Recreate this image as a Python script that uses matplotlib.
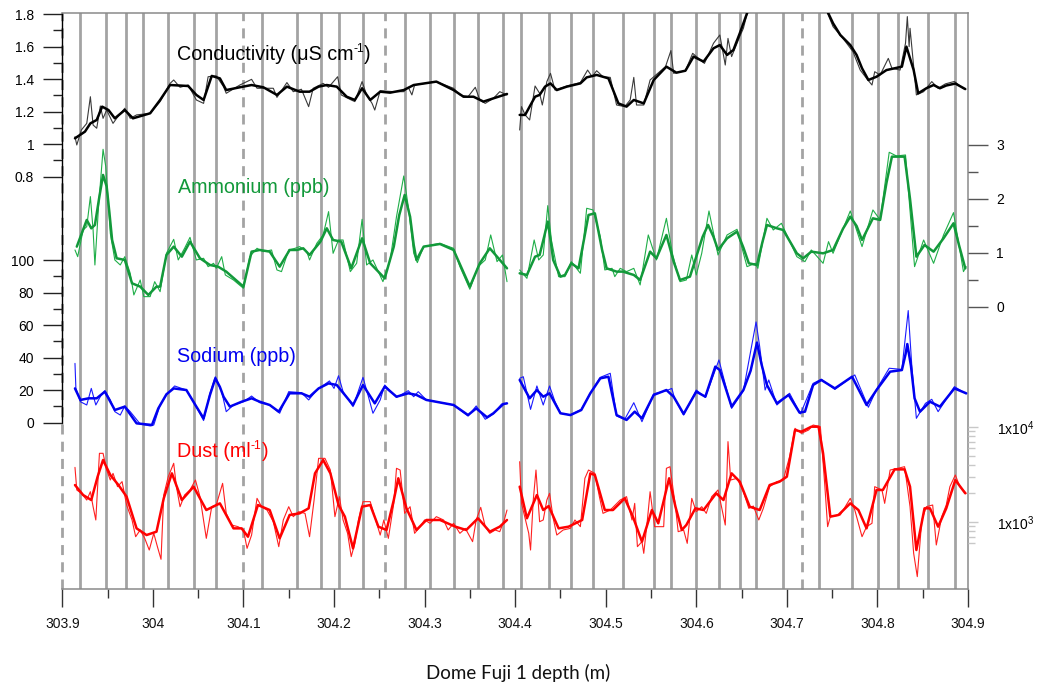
import numpy as np
import matplotlib
matplotlib.use('Agg')
import matplotlib.pyplot as plt
from matplotlib.ticker import NullFormatter

plt.rcParams['font.family'] = ['Liberation Sans', 'DejaVu Sans']
plt.rcParams['mathtext.default'] = 'regular'

nan = float('nan')

# ---------------- data (depth m, value) ----------------
xtick_vals = [303.9, 304.0, 304.1, 304.2, 304.3, 304.4, 304.5, 304.6, 304.7, 304.8, 304.9]
xtick_labels = ['303.9', '304', '304.1', '304.2', '304.3', '304.4', '304.5', '304.6', '304.7', '304.8', '304.9']

layers_solid = [303.920, 303.948, 303.970, 303.989, 304.017, 304.045, 304.070, 304.121, 304.159,
                304.186, 304.206, 304.232, 304.278, 304.306, 304.332, 304.359, 304.387, 304.407,
                304.437, 304.462, 304.486, 304.519, 304.553, 304.572, 304.600, 304.625, 304.648,
                304.666, 304.696, 304.735, 304.772, 304.801, 304.823, 304.856, 304.886]
layers_dashed = [303.900, 304.099, 304.256, 304.717]

cond_smooth = [
    (303.914, 1.035), (303.925, 1.076), (303.931, 1.127), (303.938, 1.148), (303.944, 1.230),
    (303.951, 1.209), (303.958, 1.158), (303.969, 1.209), (303.978, 1.158), (303.997, 1.189),
    (304.008, 1.271), (304.019, 1.363), (304.039, 1.357), (304.048, 1.302), (304.056, 1.271),
    (304.065, 1.419), (304.074, 1.404), (304.081, 1.332), (304.096, 1.349), (304.109, 1.363),
    (304.122, 1.349), (304.137, 1.302), (304.148, 1.353), (304.162, 1.322), (304.173, 1.322),
    (304.183, 1.353), (304.192, 1.363), (304.203, 1.353), (304.214, 1.291), (304.223, 1.271),
    (304.231, 1.343), (304.240, 1.271), (304.251, 1.322), (304.262, 1.316), (304.277, 1.332),
    (304.288, 1.363), (304.313, 1.384), (304.332, 1.332), (304.343, 1.291), (304.354, 1.291),
    (304.365, 1.261), (304.376, 1.281), (304.391, 1.308),
    (nan, nan),
    (304.405, 1.179), (304.411, 1.179), (304.416, 1.230), (304.422, 1.291), (304.427, 1.302),
    (304.433, 1.353), (304.439, 1.373), (304.446, 1.332), (304.457, 1.353), (304.472, 1.373),
    (304.479, 1.410), (304.490, 1.425), (304.503, 1.404), (304.514, 1.250), (304.523, 1.230),
    (304.531, 1.271), (304.542, 1.250), (304.553, 1.394), (304.567, 1.476), (304.578, 1.439),
    (304.588, 1.451), (304.597, 1.538), (304.608, 1.507), (304.619, 1.589), (304.626, 1.609),
    (304.634, 1.548), (304.641, 1.579), (304.648, 1.681), (304.656, 1.804), (304.665, 1.95),
    (304.690, 2.10), (304.720, 2.10), (304.740, 1.90), (304.744, 1.825), (304.751, 1.743),
    (304.759, 1.671), (304.770, 1.609), (304.777, 1.548), (304.783, 1.466), (304.790, 1.394),
    (304.799, 1.414), (304.810, 1.455), (304.819, 1.466), (304.827, 1.476), (304.832, 1.599),
    (304.840, 1.455), (304.845, 1.312), (304.854, 1.343), (304.862, 1.363), (304.869, 1.343),
    (304.876, 1.360), (304.886, 1.372), (304.897, 1.338)]

cond_raw = [
    (303.914, 1.045), (303.916, 0.994), (303.921, 1.086), (303.927, 1.127), (303.931, 1.291),
    (303.934, 1.117), (303.938, 1.097), (303.942, 1.234), (303.945, 1.158), (303.949, 1.209),
    (303.956, 1.127), (303.960, 1.158), (303.969, 1.220), (303.975, 1.158), (303.982, 1.179),
    (303.997, 1.189), (304.008, 1.261), (304.019, 1.373), (304.023, 1.394), (304.030, 1.349),
    (304.039, 1.363), (304.048, 1.271), (304.056, 1.250), (304.061, 1.414), (304.070, 1.419),
    (304.078, 1.353), (304.081, 1.312), (304.096, 1.363), (304.109, 1.398), (304.115, 1.343),
    (304.133, 1.343), (304.137, 1.287), (304.148, 1.378), (304.155, 1.322), (304.164, 1.337),
    (304.172, 1.230), (304.177, 1.343), (304.188, 1.373), (304.194, 1.349), (304.204, 1.414),
    (304.208, 1.302), (304.219, 1.271), (304.223, 1.261), (304.231, 1.384), (304.236, 1.302),
    (304.242, 1.250), (304.245, 1.209), (304.251, 1.328), (304.266, 1.322), (304.277, 1.322),
    (304.282, 1.349), (304.286, 1.302), (304.289, 1.363), (304.313, 1.384), (304.332, 1.343),
    (304.339, 1.302), (304.348, 1.291), (304.356, 1.349), (304.361, 1.271), (304.367, 1.250),
    (304.376, 1.281), (304.383, 1.322), (304.391, 1.302),
    (nan, nan),
    (304.405, 1.086), (304.407, 1.230), (304.411, 1.179), (304.416, 1.148), (304.422, 1.357),
    (304.427, 1.312), (304.430, 1.240), (304.435, 1.384), (304.439, 1.435), (304.444, 1.332),
    (304.457, 1.357), (304.472, 1.378), (304.480, 1.455), (304.485, 1.414), (304.490, 1.451),
    (304.497, 1.414), (304.505, 1.410), (304.512, 1.240), (304.521, 1.230), (304.527, 1.271),
    (304.531, 1.410), (304.534, 1.240), (304.542, 1.240), (304.549, 1.394), (304.566, 1.476),
    (304.572, 1.575), (304.575, 1.435), (304.588, 1.451), (304.596, 1.558), (304.609, 1.496),
    (304.619, 1.620), (304.626, 1.671), (304.632, 1.486), (304.635, 1.650), (304.639, 1.538),
    (304.648, 1.661), (304.652, 1.712), (304.658, 1.845), (304.663, 1.95), (304.690, 2.10),
    (304.720, 2.10), (304.738, 1.95), (304.742, 1.845), (304.751, 1.722), (304.762, 1.650),
    (304.773, 1.568), (304.781, 1.455), (304.788, 1.404), (304.794, 1.363), (304.797, 1.445),
    (304.803, 1.425), (304.812, 1.527), (304.816, 1.466), (304.825, 1.455), (304.831, 1.620),
    (304.833, 1.784), (304.835, 1.599), (304.836, 1.712), (304.840, 1.476), (304.843, 1.302),
    (304.851, 1.322), (304.860, 1.384), (304.867, 1.343), (304.875, 1.370), (304.885, 1.385),
    (304.895, 1.340)]

nh4_smooth = [
    (303.916, 1.118), (303.927, 1.612), (303.932, 1.457), (303.936, 1.519), (303.941, 2.050),
    (303.945, 2.445), (303.949, 2.229), (303.952, 1.750), (303.955, 1.241), (303.960, 0.902),
    (303.969, 0.871), (303.977, 0.439), (303.986, 0.377), (303.995, 0.223), (304.004, 0.377),
    (304.008, 0.377), (304.015, 0.963), (304.023, 1.118), (304.032, 0.932), (304.041, 1.210),
    (304.052, 0.902), (304.063, 0.778), (304.072, 0.747), (304.081, 0.655), (304.100, 0.377),
    (304.109, 1.025), (304.118, 1.056), (304.129, 1.025), (304.140, 0.747), (304.151, 1.056),
    (304.159, 1.056), (304.166, 1.087), (304.173, 0.963), (304.185, 1.210), (304.192, 1.457),
    (304.199, 1.241), (304.208, 1.210), (304.219, 0.716), (304.231, 1.272), (304.240, 0.809),
    (304.256, 0.531), (304.266, 1.118), (304.272, 1.700), (304.278, 2.074), (304.284, 1.673),
    (304.288, 1.150), (304.291, 0.871), (304.299, 1.118), (304.317, 1.167), (304.332, 1.056),
    (304.350, 0.377), (304.361, 0.809), (304.372, 1.087), (304.380, 0.932), (304.391, 0.716),
    (nan, nan),
    (304.405, 0.624), (304.413, 0.593), (304.422, 0.932), (304.427, 0.963), (304.432, 1.300),
    (304.436, 1.581), (304.439, 1.250), (304.442, 0.871), (304.450, 0.562), (304.455, 0.593),
    (304.462, 0.809), (304.470, 0.716), (304.476, 1.250), (304.481, 1.704), (304.488, 1.735),
    (304.492, 1.400), (304.496, 1.056), (304.501, 0.716), (304.512, 0.655), (304.519, 0.655),
    (304.531, 0.593), (304.538, 0.500), (304.549, 1.025), (304.556, 0.902), (304.567, 1.334),
    (304.575, 0.840), (304.582, 0.500), (304.593, 0.562), (304.600, 0.932), (304.607, 1.300),
    (304.613, 1.519), (304.619, 1.300), (304.624, 1.056), (304.634, 1.272), (304.645, 1.396),
    (304.652, 1.100), (304.658, 0.809), (304.667, 0.778), (304.673, 1.200), (304.678, 1.519),
    (304.689, 1.457), (304.696, 1.426), (304.711, 0.994), (304.718, 0.902), (304.727, 1.025),
    (304.740, 0.994), (304.751, 1.056), (304.762, 1.450), (304.770, 1.673), (304.777, 1.500),
    (304.783, 1.241), (304.795, 1.642), (304.803, 1.612), (304.810, 2.300), (304.816, 2.784),
    (304.830, 2.784), (304.836, 2.000), (304.843, 0.932), (304.852, 1.148), (304.862, 1.025),
    (304.873, 1.272), (304.884, 1.550), (304.890, 1.150), (304.897, 0.716)]

nh4_raw = [
    (303.914, 1.056), (303.917, 0.932), (303.923, 1.426), (303.927, 1.488), (303.931, 2.044),
    (303.934, 1.426), (303.936, 0.778), (303.940, 1.858), (303.945, 2.920), (303.948, 2.599),
    (303.953, 1.365), (303.958, 0.871), (303.964, 0.778), (303.969, 0.932), (303.975, 0.624),
    (303.979, 0.223), (303.986, 0.500), (303.990, 0.192), (303.997, 0.192), (304.002, 0.469),
    (304.008, 0.284), (304.015, 0.994), (304.023, 1.253), (304.028, 0.871), (304.035, 1.087),
    (304.041, 1.290), (304.048, 0.871), (304.056, 0.902), (304.061, 0.747), (304.067, 0.809),
    (304.070, 0.716), (304.076, 0.932), (304.080, 0.593), (304.089, 0.500), (304.100, 0.346),
    (304.107, 0.932), (304.115, 1.087), (304.122, 1.025), (304.131, 1.056), (304.137, 0.686),
    (304.142, 0.655), (304.150, 1.056), (304.157, 1.087), (304.162, 1.118), (304.170, 1.025),
    (304.173, 0.871), (304.181, 1.179), (304.188, 1.334), (304.194, 1.766), (304.199, 0.994),
    (304.205, 1.241), (304.210, 1.241), (304.218, 0.655), (304.225, 0.809), (304.231, 1.624),
    (304.236, 0.778), (304.243, 0.871), (304.254, 0.469), (304.262, 0.871), (304.269, 1.673),
    (304.277, 2.426), (304.282, 1.858), (304.288, 0.994), (304.292, 0.821), (304.299, 1.118),
    (304.317, 1.179), (304.332, 1.087), (304.339, 0.747), (304.350, 0.328), (304.359, 0.747),
    (304.367, 0.871), (304.373, 1.334), (304.380, 0.840), (304.386, 0.963), (304.391, 0.469),
    (nan, nan),
    (304.405, 0.686), (304.413, 0.531), (304.421, 1.241), (304.426, 0.871), (304.431, 0.963),
    (304.436, 1.877), (304.440, 1.241), (304.448, 0.562), (304.455, 0.562), (304.462, 0.840),
    (304.472, 0.624), (304.479, 1.828), (304.486, 1.797), (304.494, 1.303), (304.499, 0.686),
    (304.507, 0.716), (304.510, 0.562), (304.516, 0.716), (304.523, 0.655), (304.531, 0.716),
    (304.538, 0.408), (304.547, 1.334), (304.556, 0.871), (304.567, 1.642), (304.574, 0.963),
    (304.582, 0.469), (304.589, 0.500), (304.595, 0.963), (304.600, 0.593), (304.606, 0.994),
    (304.614, 1.778), (304.624, 0.963), (304.634, 1.334), (304.645, 1.439), (304.656, 0.747),
    (304.665, 0.809), (304.668, 0.716), (304.678, 1.642), (304.685, 1.426), (304.694, 1.550),
    (304.711, 0.932), (304.720, 0.840), (304.727, 1.056), (304.740, 0.809), (304.746, 1.210),
    (304.751, 0.994), (304.770, 1.778), (304.783, 1.118), (304.795, 1.797), (304.803, 1.612),
    (304.813, 2.865), (304.821, 2.797), (304.831, 2.815), (304.841, 0.747), (304.851, 1.241),
    (304.862, 0.809), (304.873, 1.334), (304.884, 1.747), (304.895, 0.655), (304.898, 0.747)]

na_smooth = [
    (303.914, 21.1), (303.920, 14.0), (303.929, 15.0), (303.938, 15.0), (303.947, 19.1),
    (303.958, 7.8), (303.969, 9.9), (303.982, -0.4), (303.999, -1.4), (304.006, 8.8),
    (304.015, 17.5), (304.023, 21.1), (304.037, 20.1), (304.048, 9.9), (304.056, 2.7),
    (304.063, 17.0), (304.069, 27.3), (304.074, 22.0), (304.078, 16.0), (304.085, 9.9),
    (304.098, 12.9), (304.109, 15.0), (304.118, 12.9), (304.129, 10.9), (304.139, 6.8),
    (304.151, 18.1), (304.164, 18.1), (304.173, 16.0), (304.183, 21.1), (304.194, 24.2),
    (304.203, 23.2), (304.221, 10.9), (304.232, 23.2), (304.245, 11.9), (304.256, 22.2),
    (304.269, 16.0), (304.282, 18.1), (304.291, 17.1), (304.302, 14.0), (304.332, 10.9),
    (304.348, 4.7), (304.357, 8.8), (304.369, 3.3), (304.376, 5.8), (304.387, 11.5),
    (304.391, 11.9),
    (nan, nan),
    (304.405, 26.3), (304.416, 15.0), (304.424, 20.1), (304.431, 16.0), (304.438, 18.1),
    (304.450, 5.8), (304.461, 4.7), (304.473, 7.8), (304.483, 18.1), (304.494, 27.3),
    (304.503, 28.3), (304.512, 4.7), (304.523, 1.7), (304.532, 6.8), (304.540, 2.7),
    (304.553, 17.1), (304.567, 20.1), (304.575, 16.0), (304.586, 5.4), (304.600, 19.1),
    (304.610, 16.0), (304.621, 34.5), (304.626, 32.4), (304.639, 9.9), (304.652, 20.1),
    (304.660, 32.0), (304.667, 49.3), (304.672, 36.0), (304.678, 23.2), (304.689, 11.9),
    (304.702, 17.1), (304.714, 6.2), (304.720, 6.8), (304.729, 23.2), (304.738, 26.3),
    (304.753, 21.1), (304.772, 28.3), (304.788, 10.9), (304.799, 20.1), (304.814, 31.4),
    (304.827, 32.4), (304.831, 42.0), (304.833, 48.4), (304.837, 35.0), (304.841, 15.0),
    (304.847, 6.8), (304.858, 12.9), (304.869, 9.9), (304.885, 21.1), (304.898, 18.1)]

na_raw = [
    (303.914, 36.5), (303.915, 21.1), (303.920, 12.9), (303.927, 10.9), (303.932, 21.1),
    (303.937, 10.9), (303.943, 17.1), (303.947, 19.7), (303.953, 14.0), (303.958, 6.8),
    (303.964, 4.7), (303.969, 10.3), (303.975, 6.8), (303.986, -0.8), (303.997, -2.0),
    (304.001, -1.4), (304.008, 10.9), (304.015, 17.1), (304.024, 22.6), (304.037, 20.1),
    (304.046, 11.9), (304.056, 1.3), (304.063, 18.1), (304.069, 28.3), (304.076, 19.1),
    (304.081, 6.8), (304.089, 10.9), (304.100, 12.9), (304.109, 16.4), (304.118, 12.3),
    (304.129, 10.9), (304.140, 5.8), (304.150, 19.1), (304.164, 18.5), (304.172, 14.0),
    (304.181, 20.1), (304.195, 25.7), (304.200, 21.1), (304.205, 28.9), (304.210, 19.1),
    (304.221, 9.9), (304.232, 27.9), (304.238, 16.0), (304.243, 5.8), (304.251, 14.0),
    (304.256, 23.2), (304.269, 15.6), (304.282, 19.7), (304.288, 16.0), (304.293, 19.1),
    (304.302, 14.0), (304.332, 10.9), (304.348, 4.1), (304.357, 10.3), (304.367, 2.1),
    (304.376, 5.4), (304.385, 11.5), (304.391, 11.9),
    (nan, nan),
    (304.405, 27.3), (304.409, 28.3), (304.417, 8.2), (304.424, 22.6), (304.431, 10.9),
    (304.438, 22.6), (304.444, 12.9), (304.450, 5.8), (304.461, 4.7), (304.473, 8.2),
    (304.483, 18.1), (304.494, 27.9), (304.505, 30.4), (304.512, 4.1), (304.521, 2.1),
    (304.531, 12.3), (304.540, 0.6), (304.553, 17.7), (304.567, 19.7), (304.573, 21.1),
    (304.576, 15.0), (304.586, 4.7), (304.600, 20.1), (304.610, 15.6), (304.625, 38.6),
    (304.639, 8.8), (304.652, 19.7), (304.666, 62.0), (304.670, 46.8), (304.676, 20.1),
    (304.680, 26.3), (304.689, 10.9), (304.703, 18.1), (304.715, 5.4), (304.729, 24.2),
    (304.738, 26.7), (304.753, 20.5), (304.775, 29.4), (304.790, 9.5), (304.799, 20.5),
    (304.813, 33.5), (304.827, 32.8), (304.834, 69.0), (304.838, 34.5), (304.843, 2.7),
    (304.853, 11.9), (304.860, 14.4), (304.867, 6.8), (304.885, 22.2), (304.898, 17.7)]

dust_smooth = [
    (303.914, 2449), (303.923, 1923), (303.932, 1703), (303.939, 3000), (303.945, 4498),
    (303.953, 3126), (303.962, 2449), (303.971, 1849), (303.982, 857), (303.993, 729),
    (304.004, 791), (304.012, 1774), (304.021, 3251), (304.032, 1703), (304.045, 2355),
    (304.059, 1337), (304.074, 1571), (304.089, 857), (304.098, 857), (304.105, 700),
    (304.116, 1510), (304.129, 1337), (304.140, 673), (304.151, 1186), (304.162, 1233),
    (304.172, 1393), (304.179, 3251), (304.188, 4498), (304.196, 3251), (304.205, 1510),
    (304.212, 1138), (304.221, 528), (304.231, 1449), (304.240, 1510), (304.249, 893),
    (304.258, 824), (304.266, 1703), (304.271, 2884), (304.280, 1393), (304.291, 824),
    (304.302, 1050), (304.317, 1050), (304.334, 893), (304.346, 824), (304.359, 1094),
    (304.372, 791), (304.383, 893), (304.391, 1050),
    (nan, nan),
    (304.405, 2355), (304.413, 1094), (304.424, 1923), (304.431, 1337), (304.437, 1472),
    (304.448, 857), (304.459, 893), (304.474, 1050), (304.483, 3251), (304.488, 3126),
    (304.499, 1337), (304.508, 1337), (304.521, 1774), (304.530, 1138), (304.540, 621),
    (304.551, 1337), (304.558, 969), (304.570, 2884), (304.577, 1449), (304.584, 824),
    (304.589, 929), (304.599, 1393), (304.608, 1337), (304.622, 2004), (304.630, 1703),
    (304.639, 3251), (304.648, 2661), (304.659, 1449), (304.670, 1337), (304.681, 2449),
    (304.692, 2661), (304.700, 3000), (304.709, 9290), (304.716, 8930), (304.727, 10070),
    (304.735, 10070), (304.740, 5284), (304.748, 1138), (304.757, 1186), (304.770, 1571),
    (304.779, 1337), (304.788, 857), (304.799, 2173), (304.806, 2173), (304.819, 3581),
    (304.830, 3581), (304.836, 2355), (304.843, 507), (304.852, 1393), (304.858, 1393),
    (304.867, 893), (304.876, 1393), (304.886, 2767), (304.897, 2004)]

dust_raw = [
    (303.914, 3758), (303.916, 2173), (303.921, 2004), (303.927, 1703), (303.931, 2084),
    (303.934, 1449), (303.937, 1050), (303.941, 5284), (303.945, 5284), (303.949, 3524),
    (303.953, 2767), (303.956, 3251), (303.961, 2355), (303.966, 2661), (303.971, 1510),
    (303.977, 1050), (303.981, 700), (303.986, 824), (303.991, 673), (303.996, 507),
    (304.001, 760), (304.005, 550), (304.009, 405), (304.012, 1923), (304.017, 3000),
    (304.023, 4150), (304.026, 2355), (304.030, 1449), (304.035, 1923), (304.041, 2173),
    (304.047, 2767), (304.052, 1849), (304.059, 673), (304.065, 1449), (304.070, 1510),
    (304.077, 2553), (304.081, 1233), (304.087, 929), (304.094, 893), (304.100, 824),
    (304.104, 528), (304.109, 729), (304.115, 1774), (304.120, 1449), (304.126, 1337),
    (304.133, 1007), (304.139, 550), (304.144, 1050), (304.150, 1449), (304.155, 1138),
    (304.161, 1285), (304.168, 1233), (304.173, 700), (304.178, 1703), (304.183, 4677),
    (304.190, 4677), (304.196, 3524), (304.201, 1138), (304.206, 1849), (304.210, 1050),
    (304.215, 760), (304.219, 432), (304.223, 596), (304.227, 1050), (304.232, 1637),
    (304.240, 1637), (304.245, 1138), (304.251, 729), (304.255, 1050), (304.260, 673),
    (304.266, 1571), (304.269, 3673), (304.273, 3524), (304.278, 1233), (304.284, 1449),
    (304.289, 760), (304.295, 893), (304.300, 1050), (304.306, 969), (304.313, 1138),
    (304.321, 1050), (304.326, 824), (304.332, 969), (304.339, 760), (304.345, 857),
    (304.353, 621), (304.357, 1050), (304.362, 1426), (304.367, 893), (304.372, 760),
    (304.378, 824), (304.383, 791), (304.388, 1050), (304.391, 1337),
    (nan, nan),
    (304.405, 4315), (304.407, 1571), (304.415, 760), (304.417, 507), (304.420, 1703),
    (304.423, 3524), (304.427, 1007), (304.431, 1050), (304.435, 1703), (304.438, 2004),
    (304.442, 1094), (304.446, 729), (304.453, 824), (304.461, 857), (304.466, 1050),
    (304.472, 893), (304.477, 2884), (304.481, 3524), (304.488, 3251), (304.493, 1849),
    (304.497, 1233), (304.505, 1337), (304.516, 1703), (304.523, 1849), (304.529, 1050),
    (304.532, 1571), (304.535, 550), (304.540, 621), (304.542, 468), (304.546, 1050),
    (304.549, 2084), (304.554, 893), (304.560, 893), (304.564, 893), (304.567, 3673),
    (304.571, 3820), (304.577, 1449), (304.580, 791), (304.586, 824), (304.590, 596),
    (304.595, 1774), (304.600, 1285), (304.606, 1449), (304.611, 1233), (304.617, 1849),
    (304.624, 2173), (304.632, 929), (304.635, 7015), (304.638, 2767), (304.645, 2884),
    (304.652, 2084), (304.658, 1393), (304.663, 1472), (304.669, 1050), (304.674, 1393),
    (304.681, 2355), (304.689, 2661), (304.696, 2767), (304.703, 4875), (304.709, 9683),
    (304.716, 8573), (304.724, 9290), (304.729, 10495), (304.737, 10070), (304.742, 2355),
    (304.745, 893), (304.748, 1138), (304.759, 1186), (304.770, 1774), (304.775, 1337),
    (304.783, 700), (304.788, 893), (304.794, 969), (304.797, 2355), (304.805, 2173),
    (304.808, 1571), (304.814, 3524), (304.830, 3820), (304.836, 1449), (304.840, 468),
    (304.844, 266), (304.849, 1050), (304.854, 1449), (304.861, 1510), (304.865, 573),
    (304.871, 1138), (304.876, 1510), (304.880, 2355), (304.886, 3126), (304.891, 2355),
    (304.898, 2004)]

cond_ticks = [0.8, 1.0, 1.2, 1.4, 1.6, 1.8]
cond_ticklabels = ['0.8', '1', '1.2', '1.4', '1.6', '1.8']
na_ticks = [0, 20, 40, 60, 80, 100]
nh4_ticks = [0, 1, 2, 3]
dust_ticks = [1e3, 1e4]
dust_ticklabels = ['1x10$^{3}$', '1x10$^{4}$']


def unzip(pairs):
    return (np.array([p[0] for p in pairs], float),
            np.array([p[1] for p in pairs], float))


W, H = 1037, 686
fig = plt.figure(figsize=(W / 100, H / 100), dpi=100)
L, R, T, B = 62.3, 968.0, 13.0, 589.0
ax = fig.add_axes([L / W, 1 - B / H, (R - L) / W, (B - T) / H])
ax.set_xlim(303.9, 304.9)
ax.set_ylim(-1.7385, 1.8062)

line_grey = '#a3a3a3'
for d in layers_solid:
    ax.axvline(d, color=line_grey, lw=2.0, zorder=1)
for d in layers_dashed:
    ax.axvline(d, color=line_grey, lw=2.0, dashes=(3.6, 2.6), zorder=1, clip_on=False)

lw_thin, lw_thick = 0.8, 1.8
style = dict(solid_joinstyle='round', solid_capstyle='round')

d, v = unzip(cond_raw)
ax.plot(d, v, color='#3a3a3a', lw=lw_thin, zorder=3, **style)
d, v = unzip(cond_smooth)
ax.plot(d, v, color='black', lw=lw_thick, zorder=4, **style)

ax_na = ax.twinx()
ax_na.set_ylim(-102.34, 252.12)
d, v = unzip(na_raw)
ax_na.plot(d, v, color='#1a1aff', lw=lw_thin, **style)
d, v = unzip(na_smooth)
ax_na.plot(d, v, color='#0000f0', lw=lw_thick, **style)

green = '#12993a'
ax_nh = ax.twinx()
ax_nh.set_ylim(-5.222, 5.444)
d, v = unzip(nh4_raw)
ax_nh.plot(d, v, color='#1fae48', lw=lw_thin, **style)
d, v = unzip(nh4_smooth)
ax_nh.plot(d, v, color=green, lw=lw_thick, **style)

ax_du = ax.twinx()
ax_du.set_yscale('log')
ax_du.set_ylim(10 ** 2.2947, 10 ** 8.358)
d, v = unzip(dust_raw)
ax_du.plot(d, v, color='#ff2020', lw=lw_thin, **style)
d, v = unzip(dust_smooth)
ax_du.plot(d, v, color='#ff0000', lw=lw_thick, **style)

# spines
for a in (ax_na, ax_nh, ax_du):
    for s in a.spines.values():
        s.set_visible(False)
ax.spines['left'].set_color('black')
ax.spines['left'].set_linewidth(1.0)
ax.spines['left'].set_bounds(-0.715, 1.8062)
for k in ('right', 'top', 'bottom'):
    ax.spines[k].set_color('#8a8a8a')
    ax.spines[k].set_linewidth(1.1)

# x axis
ax.set_xticks(xtick_vals)
ax.set_xticklabels(xtick_labels)
ax.set_xticks(np.arange(303.95, 304.9, 0.1), minor=True)
ax.tick_params(axis='x', which='major', length=13, width=1.0, color='#333333',
               pad=7, labelsize=10, labelcolor='#111111')
ax.tick_params(axis='x', which='minor', length=6.5, width=1.0, color='#333333')

# left axes
ax.yaxis.set_ticks_position('left')
ax.set_yticks(cond_ticks)
ax.set_yticklabels(cond_ticklabels)
ax.set_yticks(np.arange(0.9, 1.75, 0.1), minor=True)
ax.yaxis.set_minor_formatter(NullFormatter())
ax.tick_params(axis='y', which='major', length=13.7, width=1.0, color='#222222',
               pad=6.5, labelsize=10)
ax.tick_params(axis='y', which='minor', length=6.5, width=1.0, color='#222222')

ax_na.yaxis.tick_left()
ax_na.set_yticks(na_ticks)
ax_na.set_yticks(np.arange(10, 100, 20), minor=True)
ax_na.yaxis.set_minor_formatter(NullFormatter())
ax_na.tick_params(axis='y', which='major', length=13.7, width=1.0, color='#222222',
                  pad=6.5, labelsize=10)
ax_na.tick_params(axis='y', which='minor', length=6.5, width=1.0, color='#222222')

# right axes
ax_nh.yaxis.tick_right()
ax_nh.set_yticks(nh4_ticks)
ax_nh.set_yticks([0.5, 1.5, 2.5], minor=True)
ax_nh.yaxis.set_minor_formatter(NullFormatter())
ax_nh.tick_params(axis='y', which='major', length=14.4, width=1.0, color='#555555',
                  pad=5.8, labelsize=10)
ax_nh.tick_params(axis='y', which='minor', length=7.2, width=1.0, color='#555555')

ax_du.yaxis.tick_right()
ax_du.set_yticks(dust_ticks)
ax_du.set_yticklabels(dust_ticklabels)
ax_du.set_yticks([600, 700, 800, 900, 2000, 3000, 4000, 5000, 6000, 7000, 8000, 9000], minor=True)
ax_du.yaxis.set_minor_formatter(NullFormatter())
ax_du.tick_params(axis='y', which='major', length=7.2, width=1.0, color='#c8c8c8',
                  pad=13.7, labelsize=10)
ax_du.tick_params(axis='y', which='minor', length=5.0, width=1.0, color='#c8c8c8')

# series labels (superscripts drawn as separate small texts with a plain hyphen)
fs = 14.2
renderer = fig.canvas.get_renderer()


def label_with_sup(x_px, base_px, main, sup, tail, color):
    t1 = fig.text(x_px / W, 1 - base_px / H, main, fontsize=fs, va='baseline', ha='left', color=color)
    bb = t1.get_window_extent(renderer)
    t2 = fig.text(bb.x1 / W, 1 - (base_px - 8) / H, sup, fontsize=fs * 0.62, va='baseline',
                  ha='left', color=color)
    bb2 = t2.get_window_extent(renderer)
    fig.text(bb2.x1 / W, 1 - base_px / H, tail, fontsize=fs, va='baseline', ha='left', color=color)


label_with_sup(177, 60, 'Conductivity (\u03bcS cm', '-1', ')', 'black')
fig.text(178 / W, 1 - 193 / H, 'Ammonium (ppb)', fontsize=fs, va='baseline', ha='left', color=green)
fig.text(177 / W, 1 - 361.5 / H, 'Sodium (ppb)', fontsize=fs, va='baseline', ha='left', color='#0000f0')
label_with_sup(177, 457, 'Dust (ml', '-1', ')', '#ff0000')

fig.text(518 / W, 1 - 673 / H, 'Dome Fuji 1 depth (m)', fontsize=13.5, ha='center', va='center',
         family=['Lato', 'DejaVu Sans'], color='#111111')

fig.savefig('out.png', dpi=100)
